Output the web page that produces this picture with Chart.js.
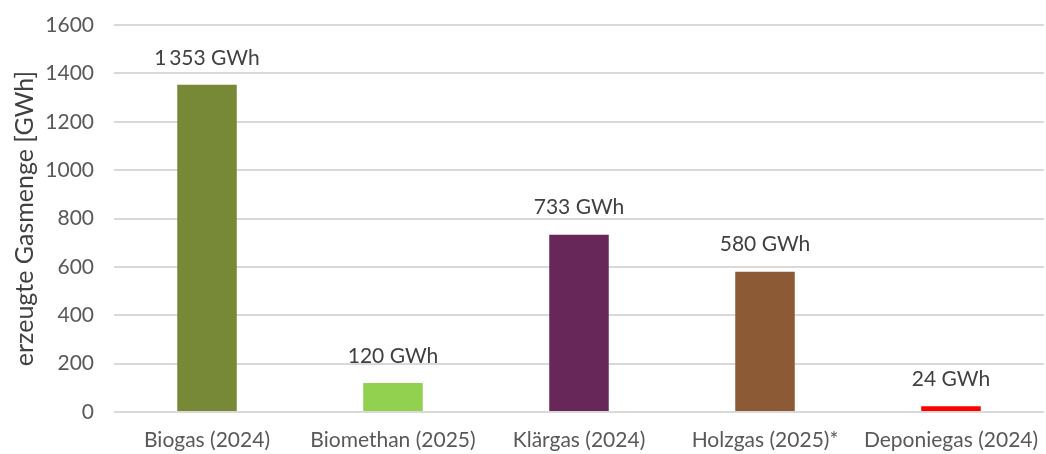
<!DOCTYPE html>
<html>
<head>
<meta charset="utf-8">
<script src="https://cdn.jsdelivr.net/npm/chart.js@4/dist/chart.umd.min.js"></script>
<style>
    html, body { margin: 0; padding: 0; background: #fff; }
    #wrap { width: 1046px; height: 454px; position: relative; }
</style>
</head>
<body>
<div id="wrap"><canvas id="chart"></canvas></div>
<script>
// Chart data
const categories = ['Biogas (2024)', 'Biomethan (2025)', 'Klärgas (2024)', 'Holzgas (2025)*', 'Deponiegas (2024)'];
const gasAmounts = [1353, 120, 733, 580, 24];
const barColors = ['#778937', '#92d050', '#672859', '#8c5b36', '#ff0000'];
const yTicks = [0, 200, 400, 600, 800, 1000, 1200, 1400, 1600];

const FONT = 'Lato, "Open Sans", sans-serif';
const TEXT_COLOR = '#595959';

// format 1353 -> "1 353 GWh"
function formatGWh(v) {
    return String(v).replace(/\B(?=(\d{3})+(?!\d))/g, '\u2009') + ' GWh';
}

// draws the value above each bar
const valueLabels = {
    id: 'valueLabels',
    afterDatasetsDraw(chart) {
        const ctx = chart.ctx;
        const meta = chart.getDatasetMeta(0);
        ctx.save();
        ctx.font = '21px ' + FONT;
        ctx.fillStyle = '#404040';
        ctx.textAlign = 'center';
        ctx.textBaseline = 'middle';
        meta.data.forEach((bar, i) => {
            ctx.fillText(formatGWh(gasAmounts[i]), bar.x, bar.y - 27);
        });
        ctx.restore();
    }
};

new Chart(document.getElementById('chart'), {
    type: 'bar',
    data: {
        labels: categories,
        datasets: [{
            data: gasAmounts,
            backgroundColor: barColors,
            borderWidth: 0,
            barPercentage: 0.64,
            categoryPercentage: 0.5
        }]
    },
    options: {
        responsive: true,
        maintainAspectRatio: false,
        animation: false,
        layout: { padding: { left: 10, right: 2, top: 25, bottom: 0 } },
        plugins: {
            legend: { display: false },
            tooltip: { enabled: false }
        },
        scales: {
            x: {
                grid: { display: false, drawTicks: false },
                border: { display: false },
                ticks: {
                    color: TEXT_COLOR,
                    font: { family: FONT, size: 21 },
                    padding: 16,
                    maxRotation: 0,
                    autoSkip: false
                },
                afterFit(scale) {
                    scale.height = 42;
                    scale.paddingLeft = 0;
                    scale.paddingRight = 0;
                }
            },
            y: {
                min: 0,
                max: 1600,
                afterBuildTicks(scale) {
                    scale.ticks = yTicks.map(v => ({ value: v }));
                },
                grid: { color: '#d9d9d9', lineWidth: 2, drawTicks: false },
                border: { display: false },
                ticks: {
                    color: TEXT_COLOR,
                    font: { family: FONT, size: 21 },
                    padding: 20,
                    callback: v => String(v)
                },
                title: {
                    display: true,
                    text: 'erzeugte Gasmenge [GWh]',
                    color: '#404040',
                    font: { family: FONT, size: 25 },
                    padding: { top: 0, bottom: 0 }
                },
                afterFit(scale) {
                    scale.width = 104;
                    scale.paddingTop = 0;
                    scale.paddingBottom = 0;
                }
            }
        }
    },
    plugins: [valueLabels]
});
</script>
</body>
</html>
